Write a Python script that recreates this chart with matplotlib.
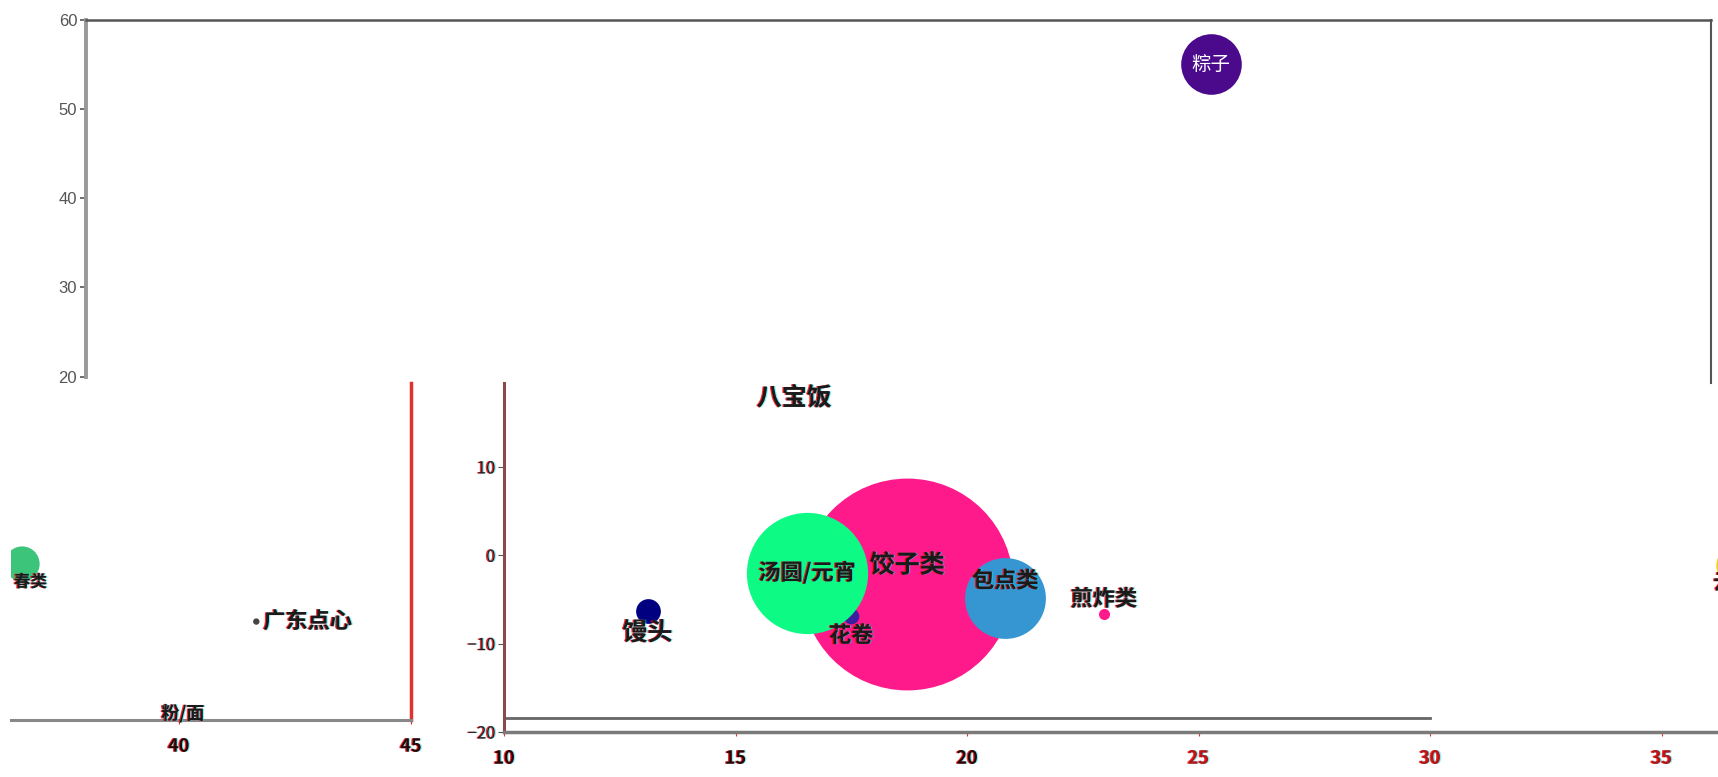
import numpy as np
import matplotlib
matplotlib.use('Agg')
from matplotlib import pyplot as plt
from matplotlib import patheffects as pe

plt.rcParams['font.family'] = ['Noto Sans CJK SC', 'DejaVu Sans']

# 上半部分：粽子
top_names = ['粽子']
top_x = [25.25]
top_y = [55]
top_size = [9]
top_colors = ['#4b0a8c']

# 中间部分
mid_names = ['饺子类', '花卷', '汤圆/元宵', '包点类', '馒头', '煎炸类', '八宝饭', '云吞']
mid_x = [18.71, 17.5, 16.55, 20.83, 13.10, 22.96, 16.27, 36.6]
mid_y = [-3.2, -6.9, -2.0, -4.8, -6.3, -6.7, 17.8, -1.1]
mid_size = [110, 0.6, 36, 16, 1.5, 0.3, 0, 4]
mid_colors = ['#ff1a8c', '#3a1fa0', '#0dfa85', '#3696d1', '#000080', '#ff1a8c', '#000000', '#f2d21b']

# 左下部分
left_names = ['春类', '广东点心', '粉/面']
left_x = [36.63, 41.67, 40.09]
left_y = [-1.4, -7.9, -18.3]
left_size = [3, 0.1, 0]
left_colors = ['#3cc47a', '#444444', '#000000']

mid_xticks = [10, 15, 20, 25, 30, 35]
mid_yticks = [10, 0, -10, -20]
left_xticks = [40, 45]
top_yticks = [20, 30, 40, 50, 60]

W, H, DPI = 1718, 777, 100
fig = plt.figure(figsize=(W / DPI, H / DPI), dpi=DPI)

glitch = [pe.SimplePatchShadow(offset=(-0.9, 0), shadow_rgbFace='#ff0000', alpha=0.85),
          pe.SimplePatchShadow(offset=(0.9, 0), shadow_rgbFace='#00e5ff', alpha=0.5),
          pe.Normal()]


def px_axes(left, top, right, bottom):
    return fig.add_axes([left / W, 1 - bottom / H, (right - left) / W, (bottom - top) / H])


def bubble_s(v):
    r_px = 10.1 * np.sqrt(np.asarray(v, dtype=float))
    return (2 * r_px * 72 / DPI) ** 2


# ---------- 上面板 ----------
ax_top = px_axes(85.5, 19.7, 1711, 383)
ax_top.set_xlim(0.94, 36.05)
ax_top.set_ylim(19.3, 60)
ax_top.scatter(top_x, top_y, s=bubble_s(top_size), c=top_colors, linewidths=0, zorder=3)
for n, x, y in zip(top_names, top_x, top_y):
    ax_top.text(x, y, n, color='white', fontsize=14, ha='center', va='center', zorder=4)
ax_top.set_xticks([])
ax_top.set_yticks(top_yticks)
ax_top.spines['bottom'].set_visible(False)
ax_top.spines['left'].set_bounds(20, 60)
ax_top.spines['left'].set_color('#999999')
ax_top.spines['left'].set_linewidth(2.8)
ax_top.spines['top'].set_color('#555555')
ax_top.spines['top'].set_linewidth(1.8)
ax_top.spines['right'].set_color('#555555')
ax_top.spines['right'].set_linewidth(1.5)
ax_top.tick_params(axis='y', length=4, width=1.2, color='#555555', labelcolor='#555555',
                   labelsize=12, pad=2)
for lbl in ax_top.get_yticklabels():
    lbl.set_family(['Liberation Sans', 'DejaVu Sans'])

# ---------- 左下面板 ----------
ax_bl = px_axes(11, 383, 411, 720)
ax_bl.set_xlim(36.39, 45)
ax_bl.set_ylim(-19, 19)
ax_bl.set_facecolor('none')
ax_bl.scatter(left_x, left_y, s=bubble_s(left_size), c=left_colors, linewidths=0, zorder=3)
bl_offsets = {'春类': (6, -13, 'center'), '广东点心': (5, 0, 'left'), '粉/面': (0, 0, 'center')}
bl_fs = {'春类': 12, '广东点心': 16, '粉/面': 13}
for n, x, y in zip(left_names, left_x, left_y):
    dx, dy, ha = bl_offsets[n]
    ax_bl.annotate(n, (x, y), xytext=(dx, dy), textcoords='offset points', ha=ha, va='center',
                   fontsize=bl_fs[n], fontweight='bold', color='#1a1a1a',
                   path_effects=glitch, zorder=5, annotation_clip=False)
ax_bl.set_yticks([])
ax_bl.set_xticks(left_xticks)
ax_bl.spines['top'].set_visible(False)
ax_bl.spines['left'].set_visible(False)
ax_bl.spines['right'].set_color('#e23030')
ax_bl.spines['right'].set_linewidth(2.5)
ax_bl.spines['bottom'].set_color('#888888')
ax_bl.spines['bottom'].set_linewidth(2.2)
ax_bl.tick_params(axis='x', length=3, color='#e23030', labelsize=13, pad=9, labelcolor='#2a0505')
for lbl in ax_bl.get_xticklabels():
    lbl.set_fontweight('bold')
    lbl.set_path_effects(glitch)

# ---------- 中间面板 ----------
ax_mid = px_axes(504, 383, 1718, 732)
ax_mid.set_xlim(10, 36.22)
ax_mid.set_ylim(-20, 19.5)
ax_mid.set_facecolor('none')
ax_mid.plot([10, 30], [-18.4, -18.4], color='#666666', lw=2, zorder=2, clip_on=False)
for i in range(len(mid_names)):
    ax_mid.scatter(mid_x[i], mid_y[i], s=bubble_s(mid_size[i]), c=mid_colors[i],
                   linewidths=0, zorder=3 + i * 0.01)
mid_offsets = {'饺子类': (0, 13), '花卷': (0, -14), '汤圆/元宵': (0, 0), '包点类': (0, 12),
               '馒头': (0, -16), '煎炸类': (0, 11), '八宝饭': (0, 0), '云吞': (0, -13)}
mid_fs = {'饺子类': 18, '花卷': 16, '汤圆/元宵': 16, '包点类': 16, '馒头': 18,
          '煎炸类': 16, '八宝饭': 18, '云吞': 16}
for n, x, y in zip(mid_names, mid_x, mid_y):
    dx, dy = mid_offsets[n]
    ax_mid.annotate(n, (x, y), xytext=(dx, dy), textcoords='offset points', ha='center',
                    va='center', fontsize=mid_fs[n], fontweight='bold', color='#1a1a1a',
                    path_effects=glitch, zorder=6, annotation_clip=False)
ax_mid.set_xticks(mid_xticks)
ax_mid.set_yticks(mid_yticks)
ax_mid.spines['top'].set_visible(False)
ax_mid.spines['right'].set_visible(False)
ax_mid.spines['left'].set_color('#8a4a4a')
ax_mid.spines['left'].set_linewidth(2.2)
ax_mid.spines['bottom'].set_color('#7a7a7a')
ax_mid.spines['bottom'].set_linewidth(2.5)
ax_mid.tick_params(axis='x', length=3, color='#e23030', labelsize=13, pad=9)
ax_mid.tick_params(axis='y', length=4, color='#555555', labelsize=12, pad=2, labelcolor='#2a1a1a')
for lbl, t in zip(ax_mid.get_xticklabels(), mid_xticks):
    lbl.set_fontweight('bold')
    lbl.set_color('#2a0505' if t <= 20 else '#b01818')
    lbl.set_path_effects(glitch)
for lbl in ax_mid.get_yticklabels():
    lbl.set_path_effects(glitch)

fig.savefig('out.png', dpi=DPI)
